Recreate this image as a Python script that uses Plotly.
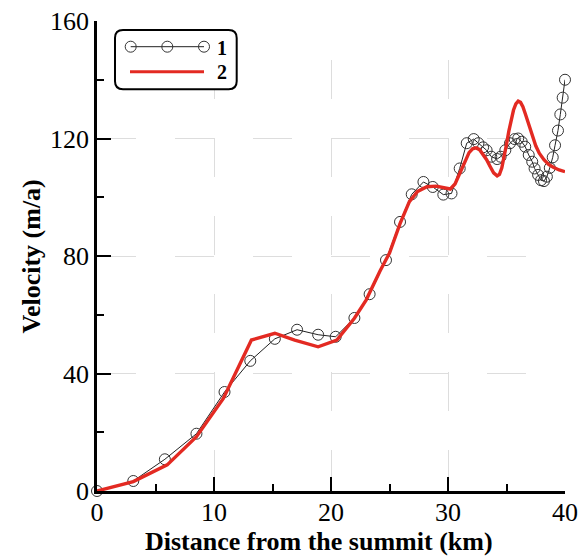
import plotly.graph_objects as go

# ---- data ----
x1 = [0, 3.1, 5.8, 8.5, 10.9, 13.1, 15.2, 17.1, 18.9, 20.4, 22.0, 23.3, 24.7, 25.9,
      26.9, 27.9, 28.7, 29.6, 30.3, 31.0, 31.6, 32.2, 32.6, 33.0, 33.3, 33.7, 34.2,
      34.5, 34.9, 35.3, 35.7, 36.0, 36.3, 36.6, 36.9, 37.2, 37.4, 37.7, 37.95, 38.2,
      38.45, 38.7, 38.95, 39.15, 39.4, 39.6, 39.8, 40.0]
y1 = [0, 3.4, 10.8, 19.5, 33.7, 44.3, 51.8, 54.9, 53.2, 52.5, 58.9, 67.0, 78.6, 91.6,
      101.0, 105.2, 103.5, 100.9, 101.3, 109.8, 118.4, 119.8, 118.4, 117.0, 116.0, 113.8, 113.0,
      113.8, 116.0, 118.4, 119.8, 120.0, 118.9, 117.2, 114.4, 112.1, 109.8, 107.6, 105.8, 105.5,
      107.0, 110.0, 113.6, 117.7, 122.7, 128.2, 133.9, 140.0]

x2 = [0, 3.1, 6.0, 8.5, 10.8, 13.2, 15.2, 16.9, 18.9, 20.5, 22.0, 23.0, 24.2, 25.0,
      25.9, 26.7, 27.4, 28.2, 29.0, 29.6, 30.2, 30.6, 31.0, 31.4, 31.8, 32.1, 32.4,
      32.7, 33.0, 33.3, 33.6, 33.9, 34.2, 34.4, 34.6, 34.8, 35.0, 35.2, 35.4, 35.6,
      35.8, 36.0, 36.2, 36.4, 36.6, 36.9, 37.2, 37.5, 37.8, 38.2, 38.6, 39.0, 39.5, 40.0]
y2 = [0, 3.2, 8.9, 18.5, 31.5, 51.4, 53.7, 51.4, 49.1, 51.4, 58.8, 65.0, 75.0, 81.0,
      91.0, 98.5, 102.0, 103.6, 103.8, 103.3, 102.8, 104.5, 108.2, 112.0, 115.2, 116.5, 116.8,
      116.2, 114.5, 112.8, 110.5, 108.3, 107.3, 107.8, 110.0, 113.5, 118.0, 122.5, 126.5, 129.7,
      131.8, 132.7, 132.3, 130.8, 128.5, 125.0, 121.0, 117.5, 115.0, 112.8, 111.2, 110.2, 109.3, 108.7]

x_ticks = [0, 10, 20, 30, 40]
y_ticks = [0, 40, 80, 120, 160]
series_names = ["1", "2"]
x_title = "Distance from the summit (km)"
y_title = "Velocity (m/a)"

# ---- layout geometry ----
W, H = 583, 556
L, R, T, B = 97, 18, 21, 65
PW, PH = W - L - R, H - T - B
FONT = "Liberation Serif"
RED = "#e32a22"


def pxx(v):
    return (v - L) / PW


def pxy(v):
    return (H - B - v) / PH


fig = go.Figure()
fig.add_trace(go.Scatter(
    x=x1, y=y1, name=series_names[0], mode="lines+markers",
    line=dict(color="#222222", width=1),
    marker=dict(symbol="circle-open", size=11, color="#333333", line=dict(width=1)),
    cliponaxis=False, showlegend=False))
fig.add_trace(go.Scatter(
    x=x2, y=y2, name=series_names[1], mode="lines",
    line=dict(color=RED, width=3.4),
    cliponaxis=False, showlegend=False))

# ---- manual legend (rounded box) ----
bx0, bx1, by0, by1, r = 115, 236.7, 30, 89.3, 8
pts = [
    ("M", bx0 + r, by0), ("L", bx1 - r, by0), ("Q", bx1, by0, bx1, by0 + r),
    ("L", bx1, by1 - r), ("Q", bx1, by1, bx1 - r, by1), ("L", bx0 + r, by1),
    ("Q", bx0, by1, bx0, by1 - r), ("L", bx0, by0 + r), ("Q", bx0, by0, bx0 + r, by0)]
path = ""
for p in pts:
    cmd = p[0]
    coords = p[1:]
    seg = []
    for i in range(0, len(coords), 2):
        seg.append(f"{pxx(coords[i]):.5f},{pxy(coords[i+1]):.5f}")
    path += cmd + " ".join(seg) + " "
path += "Z"

shapes = [dict(type="path", path=path, xref="paper", yref="paper",
               line=dict(color="black", width=2), fillcolor="white", layer="above")]
ly1, ly2 = 46.7, 71.7
shapes.append(dict(type="line", xref="paper", yref="paper",
                   x0=pxx(130.7), x1=pxx(204), y0=pxy(ly1), y1=pxy(ly1),
                   line=dict(color="#222222", width=1), layer="above"))
cr = 5.5
for cx in (130.7, 167.3, 204):
    shapes.append(dict(type="circle", xref="paper", yref="paper",
                       x0=pxx(cx - cr), x1=pxx(cx + cr), y0=pxy(ly1 + cr), y1=pxy(ly1 - cr),
                       line=dict(color="#333333", width=1), layer="above"))
shapes.append(dict(type="line", xref="paper", yref="paper",
                   x0=pxx(130), x1=pxx(204), y0=pxy(ly2), y1=pxy(ly2),
                   line=dict(color=RED, width=3), layer="above"))

annotations = []
for lab, yy in zip(series_names, (ly1 + 1, ly2)):
    annotations.append(dict(text=lab, xref="paper", yref="paper", x=pxx(215), y=pxy(yy),
                            xanchor="left", yanchor="middle", showarrow=False,
                            font=dict(family=FONT, size=20, color="black", weight="bold")))

title_font = dict(family=FONT, size=26, color="black", weight="bold")
annotations.append(dict(text=x_title, xref="paper", yref="paper", x=pxx(319), y=pxy(541),
                        xanchor="center", yanchor="middle", showarrow=False, font=title_font))
annotations.append(dict(text=y_title, xref="paper", yref="paper", x=pxx(31), y=pxy(256.5),
                        xanchor="center", yanchor="middle", showarrow=False, textangle=-90,
                        font=title_font))

axis_common = dict(
    showline=True, linecolor="black", linewidth=2.5, mirror=False,
    ticks="inside", ticklen=14, tickwidth=2, tickcolor="black",
    showgrid=True, gridcolor="#dddddd", gridwidth=1,
    zeroline=False, automargin=False,
    tickfont=dict(family=FONT, size=26, color="black"),
)

fig.update_layout(
    width=W, height=H, autosize=False,
    margin=dict(l=L, r=R, t=T, b=B, pad=0),
    paper_bgcolor="white", plot_bgcolor="white",
    xaxis=dict(range=[0, 40], tickvals=x_ticks, ticktext=[str(v) for v in x_ticks],
               minor=dict(dtick=5, tick0=0, ticks="inside", ticklen=7, tickwidth=2,
                          tickcolor="black", showgrid=False),
               griddash="0px,39px,39px,0px", ticklabelstandoff=-4,
               **axis_common),
    yaxis=dict(range=[0, 160], tickvals=y_ticks, ticktext=[str(v) for v in y_ticks],
               minor=dict(dtick=20, tick0=0, ticks="inside", ticklen=7, tickwidth=2,
                          tickcolor="black", showgrid=False),
               griddash="39px,39px",
               **axis_common),
    shapes=shapes, annotations=annotations,
)

fig.write_html("out.html", config={"displayModeBar": False},
               post_script="document.body.style.margin='0px';"
                           "document.body.style.overflow='hidden';")
